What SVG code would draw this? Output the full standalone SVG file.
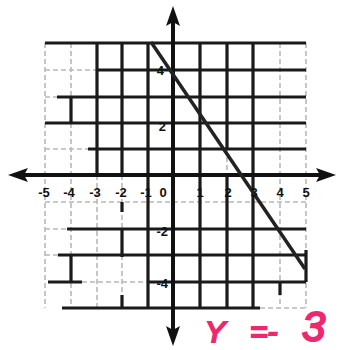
<svg xmlns="http://www.w3.org/2000/svg" width="338" height="350" viewBox="0 0 338 350">
<style>
.s{stroke:#1a1a1a;stroke-width:3.2;fill:none}
.d{stroke:#b8b8b8;stroke-width:1.6;stroke-dasharray:5 3;fill:none}
.ax{stroke:#111;stroke-width:4}
.ah{fill:#111}
.lb{font-family:"Liberation Sans",Arial,sans-serif;font-weight:bold;font-size:13px;fill:#111}
.pk{font-family:"Liberation Sans",Arial,sans-serif;font-style:italic;fill:#f0266f;stroke:#f0266f;stroke-width:2}
</style>
<rect width="338" height="350" fill="#fff"/>
<g id="grid-dashed">
<path class="d" d="M45 70H96M45 97H57M45 149H88M45 202H306M45 229H67M45 255H58M82 282H147M260 308H306"/>
<path class="d" d="M45 43V308M71 43V308M97 175V308M122 175V308M227 149V175M280 43V308M306 43V308"/>
</g>
<g id="grid-solid">
<path class="s" d="M45 43H306M96 70H306M57 97H306M45 123H306M88 149H306M67 229H306M58 255H306M48 282H82M147 282H306M62 308H260"/>
<path class="s" d="M71 97V123M71 255V282M97 43V175M122 43V175M122 202V212M122 229V257M122 295V308M148 43V308M200 43V308M227 43V149M227 175V308M253 43V308M280 282V295M306 250V282"/>
</g>
<g id="axes">
<line class="ax" x1="24" y1="175" x2="322" y2="175"/>
<polygon class="ah" points="8,175 28,168 24,175 28,182"/>
<polygon class="ah" points="336,175 316,168 320,175 316,182"/>
<line class="ax" x1="173" y1="22" x2="173" y2="330"/>
<polygon class="ah" points="173,6 166,26 173,22 180,26"/>
<polygon class="ah" points="173,346 166,326 173,330 180,326"/>
</g>
<g id="graph-line">
<line x1="151" y1="42" x2="305" y2="269" stroke="#222" stroke-width="3.5"/>
</g>
<g id="labels" class="lb" text-anchor="middle">
<text x="44" y="197">-5</text>
<text x="69" y="197">-4</text>
<text x="95" y="197">-3</text>
<text x="121" y="197">-2</text>
<text x="146" y="197">-1</text>
<text x="163" y="197">0</text>
<text x="200" y="197">1</text>
<text x="228" y="197">2</text>
<text x="254" y="197">3</text>
<text x="280" y="197">4</text>
<text x="306" y="197">5</text>
<text x="164" y="75" text-anchor="end">4</text>
<text x="166" y="131" text-anchor="end">2</text>
<text x="168" y="236" text-anchor="end">-2</text>
<text x="168" y="288" text-anchor="end">-4</text>
</g>
<g id="handwriting" class="pk">
<text x="205" y="342" font-size="30">Y</text>
<text x="250" y="342" font-size="30">=-</text>
<text x="302" y="341" font-size="42">3</text>
</g>
</svg>
